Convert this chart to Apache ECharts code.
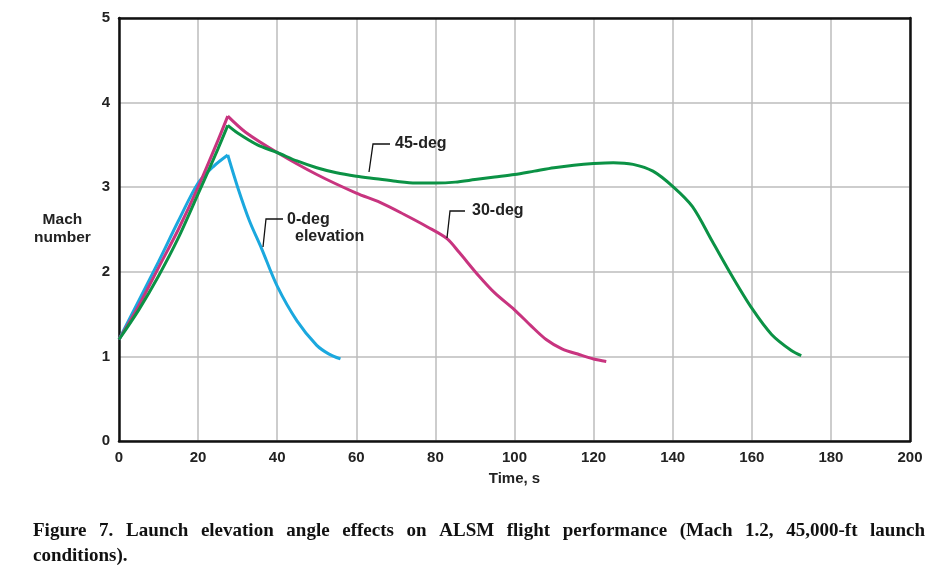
<!DOCTYPE html>
<html><head><meta charset="utf-8">
<script src="https://cdn.jsdelivr.net/npm/echarts@6/dist/echarts.min.js"></script>
<style>html,body{margin:0;padding:0;background:#fff}#c{width:949px;height:571px}</style>
</head><body><div id="c"></div>
<script>
// Time (s) and Mach number
const deg0Time = [0, 5, 10, 15, 20, 24, 27.5, 30, 33, 36, 40, 45, 50, 53, 56];
const deg0Mach = [1.2, 1.66, 2.12, 2.6, 3.05, 3.25, 3.38, 3.0, 2.6, 2.28, 1.83, 1.42, 1.13, 1.03, 0.97];

const deg30Time = [0, 5, 10, 15, 20, 25, 27.5, 32, 40, 50, 60, 66, 72, 78, 83, 86, 91, 95, 100, 104, 108, 112, 116.5, 120, 123.2];
const deg30Mach = [1.2, 1.6, 2.05, 2.5, 3.0, 3.55, 3.84, 3.65, 3.41, 3.15, 2.93, 2.82, 2.68, 2.53, 2.39, 2.23, 1.95, 1.75, 1.55, 1.37, 1.20, 1.09, 1.02, 0.97, 0.94];

const deg45Time = [0, 5, 10, 15, 20, 25, 27.5, 30, 35, 40, 45, 50, 55, 60, 65, 70, 75, 80, 85, 90, 95, 100, 105, 110, 115, 120, 125, 130, 135, 140, 145, 150, 155, 160, 165, 170, 172.5];
const deg45Mach = [1.2, 1.55, 1.95, 2.4, 2.92, 3.45, 3.73, 3.64, 3.5, 3.41, 3.31, 3.23, 3.17, 3.13, 3.10, 3.07, 3.05, 3.05, 3.06, 3.09, 3.12, 3.15, 3.19, 3.23, 3.26, 3.28, 3.29, 3.27, 3.19, 3.01, 2.77, 2.36, 1.95, 1.57, 1.26, 1.07, 1.01];

const xTicks = [0, 20, 40, 60, 80, 100, 120, 140, 160, 180, 200];
const yTicks = [0, 1, 2, 3, 4, 5];

const captionLine1 = 'Figure 7. Launch elevation angle effects on ALSM flight performance (Mach 1.2, 45,000-ft launch';
const captionLine2 = 'conditions).';

const zip = (a, b) => a.map((v, i) => [v, b[i]]);
const peakIndex = arr => arr.indexOf(Math.max(...arr));
const FONT = 'Liberation Sans, Arial, sans-serif';
const SERIF = 'bold 19px Liberation Serif, Times New Roman, serif';

const chart = echarts.init(document.getElementById('c'), null, {renderer: 'canvas'});
const labelStyle = {fontFamily: FONT, fontWeight: 'bold', fontSize: 15, color: '#222'};

function curve(name, t, m, color, z) {
  const pts = zip(t, m);
  const p = peakIndex(m);
  const base = {type: 'line', name: name, showSymbol: false, smooth: 0.3, lineStyle: {color: color, width: 3}, z: z};
  return [
    Object.assign({}, base, {data: pts.slice(0, p + 1)}),
    Object.assign({}, base, {data: pts.slice(p)})
  ];
}

function leaderLabel(pts, text, tx, ty) {
  return [
    {type: 'polyline', shape: {points: pts}, style: {stroke: '#111', lineWidth: 1.3, fill: null}, z: 10},
    {type: 'text', x: tx, y: ty, style: {text: text, textVerticalAlign: 'middle', font: 'bold 16px ' + FONT, fill: '#222'}, z: 10}
  ];
}

// justify caption line across a width
function justified(text, x0, x1, y) {
  const ctx = document.createElement('canvas').getContext('2d');
  ctx.font = SERIF;
  const words = text.split(' ');
  const widths = words.map(w => ctx.measureText(w).width);
  const total = widths.reduce((a, b) => a + b, 0);
  const gap = (x1 - x0 - total) / (words.length - 1);
  let x = x0;
  return words.map((w, i) => {
    const el = {type: 'text', x: x, y: y, style: {text: w, font: SERIF, fill: '#111', textVerticalAlign: 'middle'}};
    x += widths[i] + gap;
    return el;
  });
}

const axisBox = {show: true, onZero: false, lineStyle: {color: '#111', width: 2.5}};

chart.setOption({
  animation: false,
  grid: {left: 119, top: 18, right: 39, bottom: 130},
  xAxis: [{
    type: 'value', min: 0, max: 200, interval: 20,
    name: 'Time, s', nameLocation: 'middle', nameGap: 30,
    nameTextStyle: labelStyle,
    axisLine: axisBox,
    axisTick: {show: false},
    axisLabel: Object.assign({margin: 9}, labelStyle),
    splitLine: {show: true, lineStyle: {color: '#bdbdbd', width: 1.5}},
    z: 2
  }, {
    type: 'value', min: 0, max: 200, position: 'top',
    axisLine: axisBox, axisTick: {show: false}, axisLabel: {show: false}, splitLine: {show: false}, z: 6
  }],
  yAxis: [{
    type: 'value', min: 0, max: 5, interval: 1,
    axisLine: axisBox,
    axisTick: {show: false},
    axisLabel: Object.assign({margin: 9}, labelStyle),
    splitLine: {show: true, lineStyle: {color: '#bdbdbd', width: 1.5}},
    z: 2
  }, {
    type: 'value', min: 0, max: 5, position: 'right',
    axisLine: axisBox, axisTick: {show: false}, axisLabel: {show: false}, splitLine: {show: false}, z: 6
  }],
  series: [
    ...curve('0-deg elevation', deg0Time, deg0Mach, '#1ba8de', 3),
    ...curve('30-deg', deg30Time, deg30Mach, '#c8347f', 4),
    ...curve('45-deg', deg45Time, deg45Mach, '#0b9245', 5)
  ],
  graphic: [
    {type: 'text', left: 34, top: 211, style: {text: 'Mach\nnumber', font: 'bold 15.5px ' + FONT, fill: '#222', textAlign: 'center', lineHeight: 18}},
    ...leaderLabel([[369, 172], [373, 144], [390, 144]], '45-deg', 395, 144),
    ...leaderLabel([[447, 238], [450, 211], [465, 211]], '30-deg', 472, 211),
    ...leaderLabel([[263, 247], [266, 219], [283, 219]], '0-deg', 287, 220),
    {type: 'text', x: 295, y: 237, style: {text: 'elevation', font: 'bold 16px ' + FONT, fill: '#222', textVerticalAlign: 'middle'}, z: 10},
    ...justified(captionLine1, 33, 925, 531),
    {type: 'text', x: 33, y: 556, style: {text: captionLine2, font: SERIF, fill: '#111', textVerticalAlign: 'middle'}}
  ]
});
</script></body></html>
